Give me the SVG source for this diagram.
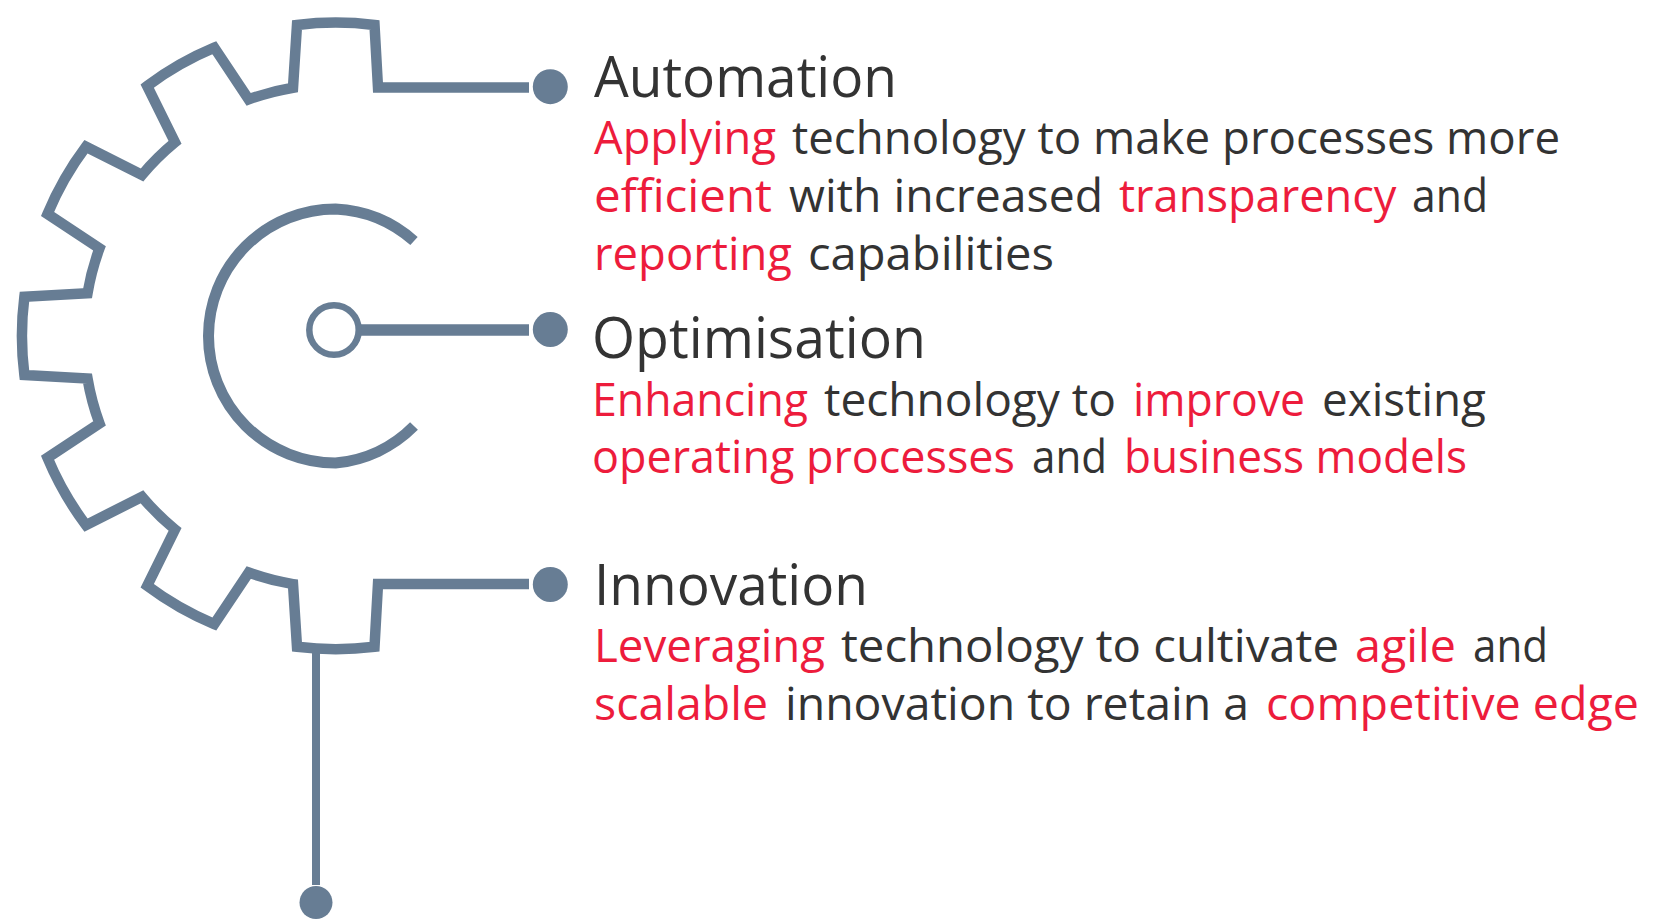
<svg xmlns="http://www.w3.org/2000/svg" width="1674" height="923" viewBox="0 0 1674 923">
<style>
.l{fill:none;stroke:#677d94;stroke-width:10.5}
.c{stroke-width:11.5}
.d{fill:#677d94}
text{font-family:"Open Sans","Noto Sans",sans-serif;fill:#333333}
.h{font-size:56px}
.b{font-size:46px}
.r{fill:#ed1c3c}
</style>
<rect width="1674" height="923" fill="#ffffff"/>
<g id="gear"><path class="l" d="M529 87.5H378L374.5 25A312 312 0 0 0 297 25L293 87.7A251 251 0 0 0 248.7 99.3L214.3 47.7A312 312 0 0 0 147.2 86L175 142.3A251 251 0 0 0 142 175L86 146.7A312 312 0 0 0 47.5 214L99.5 248.3A251 251 0 0 0 87.5 293.3L24.4 296.7A312 312 0 0 0 24.4 375.1L87.5 378.5A251 251 0 0 0 99.5 423.5L47.5 457.8A312 312 0 0 0 86 525.1L142 496.8A251 251 0 0 0 175 529.5L147.2 585.8A312 312 0 0 0 214.3 624.1L248.7 572.5A251 251 0 0 0 293 584.1L297 646.8A312 312 0 0 0 374.5 646.8L378 584H529"/></g>
<g id="inner-ring"><path class="l" style="stroke-width:11" d="M414 241A127 127 0 0 0 335.500 209A127 127 0 0 0 208.500 336A127 127 0 0 0 335.500 463A127 127 0 0 0 414 426"/></g>
<g id="connectors">
<path class="l c" d="M361 330H529"/>
<path class="l" style="stroke-width:8" d="M316 653V885"/>
</g>
<g id="hub"><circle cx="334" cy="330" r="24.7" fill="none" stroke="#677d94" stroke-width="6.500"/></g>
<g id="dot-automation"><circle class="d" cx="550.300" cy="86.700" r="17.500"/></g>
<g id="dot-optimisation"><circle class="d" cx="550.300" cy="329.500" r="17.500"/></g>
<g id="dot-innovation"><circle class="d" cx="550.300" cy="584.500" r="17.500"/></g>
<g id="dot-bottom"><circle class="d" cx="316" cy="902.500" r="16.500"/></g>
<g id="automation">
<text class="h" x="594" y="96.500" textLength="303" lengthAdjust="spacingAndGlyphs">Automation</text>
<text class="b" y="154"><tspan class="r" x="594" textLength="182" lengthAdjust="spacingAndGlyphs">Applying</tspan> <tspan x="792" textLength="768" lengthAdjust="spacingAndGlyphs">technology to make processes more</tspan></text>
<text class="b" y="212"><tspan class="r" x="594" textLength="178" lengthAdjust="spacingAndGlyphs">efficient</tspan> <tspan x="789" textLength="314" lengthAdjust="spacingAndGlyphs">with increased</tspan> <tspan class="r" x="1119" textLength="277.500" lengthAdjust="spacingAndGlyphs">transparency</tspan> <tspan x="1412" textLength="76" lengthAdjust="spacingAndGlyphs">and</tspan></text>
<text class="b" y="270"><tspan class="r" x="594" textLength="198" lengthAdjust="spacingAndGlyphs">reporting</tspan> <tspan x="808" textLength="246" lengthAdjust="spacingAndGlyphs">capabilities</tspan></text>
</g>
<g id="optimisation">
<text class="h" x="592" y="357.500" textLength="334" lengthAdjust="spacingAndGlyphs">Optimisation</text>
<text class="b" y="416"><tspan class="r" x="592" textLength="216" lengthAdjust="spacingAndGlyphs">Enhancing</tspan> <tspan x="824" textLength="292" lengthAdjust="spacingAndGlyphs">technology to</tspan> <tspan class="r" x="1133" textLength="172" lengthAdjust="spacingAndGlyphs">improve</tspan> <tspan x="1322" textLength="164" lengthAdjust="spacingAndGlyphs">existing</tspan></text>
<text class="b" y="473"><tspan class="r" x="592" textLength="423" lengthAdjust="spacingAndGlyphs">operating processes</tspan> <tspan x="1032" textLength="75" lengthAdjust="spacingAndGlyphs">and</tspan> <tspan class="r" x="1124" textLength="343" lengthAdjust="spacingAndGlyphs">business models</tspan></text>
</g>
<g id="innovation">
<text class="h" x="594" y="604.500" textLength="274" lengthAdjust="spacingAndGlyphs">Innovation</text>
<text class="b" y="662"><tspan class="r" x="594" textLength="231" lengthAdjust="spacingAndGlyphs">Leveraging</tspan> <tspan x="841" textLength="498" lengthAdjust="spacingAndGlyphs">technology to cultivate</tspan> <tspan class="r" x="1355" textLength="101" lengthAdjust="spacingAndGlyphs">agile</tspan> <tspan x="1473" textLength="75" lengthAdjust="spacingAndGlyphs">and</tspan></text>
<text class="b" y="720"><tspan class="r" x="594" textLength="174" lengthAdjust="spacingAndGlyphs">scalable</tspan> <tspan x="785" textLength="464" lengthAdjust="spacingAndGlyphs">innovation to retain a</tspan> <tspan class="r" x="1266" textLength="373" lengthAdjust="spacingAndGlyphs">competitive edge</tspan></text>
</g>
</svg>
